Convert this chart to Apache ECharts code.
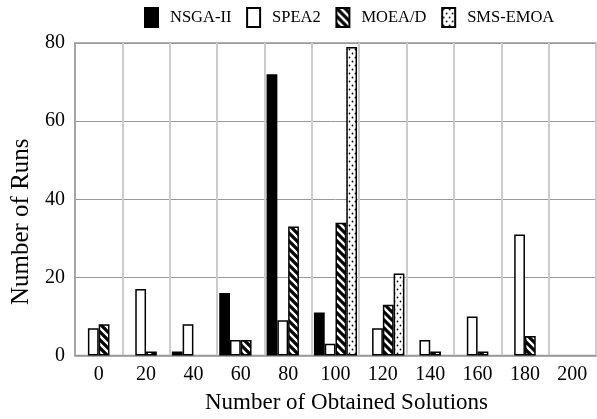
<!DOCTYPE html>
<html>
<head>
<meta charset="utf-8">
<script src="https://cdn.jsdelivr.net/npm/echarts@6/dist/echarts.min.js"></script>
<style>html,body{margin:0;padding:0;background:#fff}#c{width:597px;height:419px}</style>
</head>
<body>
<div id="c"></div>
<script>
var categories = ['0','20','40','60','80','100','120','140','160','180','200'];
var nsga2   = [0, 0, 1, 16, 72, 11, 0, 0, 0, 0, 0];
var spea2   = [7, 17, 8, 4, 9, 3, 7, 4, 10, 31, 0];
var moead   = [8, 1, 0, 4, 33, 34, 13, 1, 1, 5, 0];
var smsemoa = [0, 0, 0, 0, 0, 79, 21, 0, 0, 0, 0];
var yTicks = [0, 20, 40, 60, 80];

function hatch() {
  var c = document.createElement('canvas');
  c.width = 8; c.height = 8;
  var g = c.getContext('2d');
  g.fillStyle = '#fff'; g.fillRect(0, 0, 8, 8);
  g.strokeStyle = '#000'; g.lineWidth = 3.2;
  g.beginPath();
  g.moveTo(-2, -2); g.lineTo(10, 10);
  g.moveTo(-10, -2); g.lineTo(2, 10);
  g.moveTo(6, -2); g.lineTo(18, 10);
  g.stroke();
  return c;
}
function dots() {
  var c = document.createElement('canvas');
  c.width = 6; c.height = 8;
  var g = c.getContext('2d');
  g.fillStyle = '#fff'; g.fillRect(0, 0, 6, 8);
  g.fillStyle = '#000';
  g.beginPath(); g.arc(1.5, 1.5, 0.9, 0, Math.PI * 2); g.fill();
  g.beginPath(); g.arc(4.5, 5.5, 0.9, 0, Math.PI * 2); g.fill();
  return c;
}
function nz(arr) { return arr.map(function (v) { return v === 0 ? '-' : v; }); }

var font = 'Liberation Serif';
var chart = echarts.init(document.getElementById('c'), null, {renderer: 'canvas'});
var border = {borderColor: '#000', borderWidth: 1.5};
chart.setOption({
  animation: false,
  textStyle: {fontFamily: font, color: '#000'},
  legend: {
    top: 7, left: 144, padding: 0, itemWidth: 13, itemHeight: 19, itemGap: 14.7, icon: 'rect',
    textStyle: {fontFamily: font, fontSize: 16.5, color: '#000', padding: [0, 0, 0, 7]},
    data: ['NSGA-II', 'SPEA2', 'MOEA/D', 'SMS-EMOA']
  },
  grid: {left: 75, right: 1, top: 43, bottom: 57, show: true, borderColor: '#999', borderWidth: 1.5, containLabel: false},
  xAxis: {
    type: 'category', data: categories, boundaryGap: true,
    name: 'Number of Obtained Solutions', nameLocation: 'middle', nameGap: 35.5,
    nameTextStyle: {fontFamily: font, fontSize: 23, color: '#000', padding: [0, 0, 0, 22]},
    axisLine: {lineStyle: {color: '#999', width: 1.5}},
    axisTick: {show: false},
    axisLabel: {fontFamily: font, fontSize: 20, color: '#000', margin: 9},
    splitLine: {show: true, lineStyle: {color: '#ccc', width: 2}}
  },
  yAxis: {
    type: 'value', min: yTicks[0], max: yTicks[yTicks.length - 1], interval: 20,
    name: 'Number of Runs', nameLocation: 'middle', nameGap: 41,
    nameTextStyle: {fontFamily: font, fontSize: 25, color: '#000', padding: [0, 45, 0, 0]},
    axisLine: {show: true, lineStyle: {color: '#999', width: 1.5}},
    axisTick: {show: false},
    axisLabel: {fontFamily: font, fontSize: 20, color: '#000', margin: 10},
    splitLine: {show: true, lineStyle: {color: '#999', width: 1}}
  },
  series: [
    {name: 'NSGA-II', type: 'bar', data: nz(nsga2), barGap: '0%', barCategoryGap: '9%',
     itemStyle: Object.assign({color: '#000'}, border)},
    {name: 'SPEA2', type: 'bar', data: nz(spea2), barGap: '0%', barCategoryGap: '9%',
     itemStyle: Object.assign({color: '#fff'}, border)},
    {name: 'MOEA/D', type: 'bar', data: nz(moead), barGap: '0%', barCategoryGap: '9%',
     itemStyle: Object.assign({color: {image: hatch(), repeat: 'repeat'}}, border)},
    {name: 'SMS-EMOA', type: 'bar', data: nz(smsemoa), barGap: '0%', barCategoryGap: '9%',
     itemStyle: Object.assign({color: {image: dots(), repeat: 'repeat'}}, border)}
  ]
});
</script>
</body>
</html>
